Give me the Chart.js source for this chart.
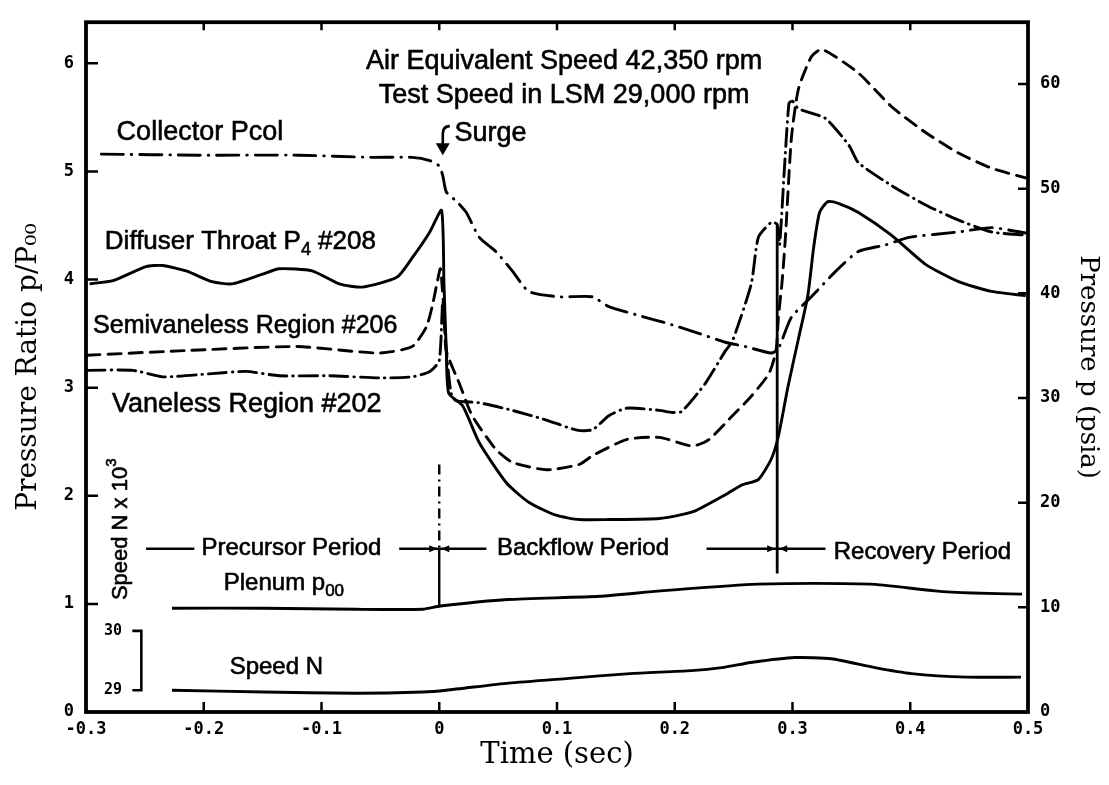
<!DOCTYPE html>
<html lang="en">
<head>
<meta charset="utf-8">
<title>Surge transient</title>
<script src="https://cdn.jsdelivr.net/npm/chart.js@4.4.1/dist/chart.umd.min.js"></script>
<style>
  body { margin: 0; background: #fff; }
  canvas { display: block; }
</style>
</head>
<body>
<canvas id="surgeChart" width="1109" height="785"></canvas>
<script>
// Time (sec) and pressure ratio p/P00
const tCollector = [-0.287, -0.204, -0.119, -0.059, -0.023, -0.008, 0.000, 0.003, 0.006, 0.015, 0.023, 0.034, 0.048, 0.062, 0.076, 0.102, 0.130, 0.144, 0.172, 0.195, 0.221, 0.243, 0.260, 0.282, 0.288, 0.299, 0.316, 0.337, 0.356, 0.379, 0.399, 0.441, 0.469, 0.498];
const pCollector = [5.16, 5.15, 5.15, 5.13, 5.13, 5.10, 5.05, 4.96, 4.81, 4.72, 4.62, 4.39, 4.26, 4.08, 3.89, 3.84, 3.84, 3.75, 3.66, 3.59, 3.50, 3.42, 3.38, 3.32, 3.36, 3.65, 3.84, 4.08, 4.26, 4.32, 4.39, 4.44, 4.48, 4.43];

const tDiffuser = [-0.297, -0.277, -0.249, -0.235, -0.215, -0.193, -0.176, -0.150, -0.136, -0.108, -0.085, -0.065, -0.036, -0.023, -0.008, 0.002, 0.004, 0.006, 0.008, 0.020, 0.034, 0.057, 0.076, 0.099, 0.119, 0.144, 0.187, 0.215, 0.243, 0.257, 0.271, 0.282, 0.288, 0.296, 0.305, 0.313, 0.318, 0.323, 0.330, 0.340, 0.356, 0.384, 0.413, 0.441, 0.469, 0.498];
const pDiffuser = [3.96, 3.99, 4.12, 4.13, 4.08, 3.98, 3.96, 4.05, 4.10, 4.08, 3.96, 3.93, 4.02, 4.20, 4.44, 4.64, 3.96, 3.34, 2.95, 2.83, 2.49, 2.12, 1.94, 1.82, 1.78, 1.78, 1.79, 1.85, 2.01, 2.10, 2.15, 2.34, 2.55, 3.00, 3.45, 3.85, 4.30, 4.62, 4.72, 4.70, 4.62, 4.41, 4.14, 3.98, 3.89, 3.85];

const tSemivaneless = [-0.299, -0.221, -0.121, -0.051, -0.023, -0.011, -0.006, -0.002, 0.001, 0.004, 0.006, 0.017, 0.028, 0.048, 0.062, 0.091, 0.119, 0.130, 0.159, 0.187, 0.215, 0.229, 0.249, 0.265, 0.280, 0.286, 0.288, 0.291, 0.294, 0.299, 0.305, 0.316, 0.325, 0.356, 0.384, 0.413, 0.441, 0.469, 0.498];
const pSemivaneless = [3.30, 3.34, 3.38, 3.32, 3.38, 3.56, 3.75, 3.96, 4.10, 3.70, 3.34, 3.04, 2.74, 2.43, 2.31, 2.24, 2.29, 2.37, 2.52, 2.54, 2.46, 2.52, 2.74, 2.92, 3.13, 3.34, 3.65, 3.96, 4.39, 5.30, 5.76, 6.06, 6.13, 5.91, 5.60, 5.36, 5.17, 5.03, 4.94];

const tVaneless = [-0.299, -0.260, -0.235, -0.193, -0.164, -0.136, -0.093, -0.051, -0.023, -0.008, 0.000, 0.003, 0.006, 0.010, 0.014, 0.034, 0.062, 0.091, 0.116, 0.130, 0.144, 0.159, 0.187, 0.198, 0.206, 0.226, 0.243, 0.249, 0.265, 0.271, 0.282, 0.287, 0.289, 0.293, 0.297, 0.300, 0.305, 0.328, 0.348, 0.356, 0.384, 0.413, 0.441, 0.469, 0.498];
const pVaneless = [3.16, 3.16, 3.10, 3.13, 3.15, 3.11, 3.11, 3.09, 3.10, 3.15, 3.25, 3.80, 3.34, 2.95, 2.88, 2.86, 2.79, 2.70, 2.61, 2.61, 2.74, 2.81, 2.79, 2.77, 2.78, 3.04, 3.34, 3.43, 3.96, 4.39, 4.53, 4.51, 4.32, 5.00, 5.63, 5.65, 5.58, 5.49, 5.24, 5.08, 4.87, 4.69, 4.55, 4.44, 4.41];

const tPlenum = [-0.227, -0.149, -0.071, -0.014, 0.001, 0.058, 0.136, 0.188, 0.266, 0.318, 0.370, 0.421, 0.453, 0.495];
const pPlenum = [0.96, 0.96, 0.95, 0.95, 0.98, 1.04, 1.07, 1.12, 1.18, 1.19, 1.18, 1.12, 1.10, 1.09];

// Speed N in thousands of rpm (own small scale, 29 to 30 bracket)
const tSpeed = [-0.227, -0.149, -0.071, -0.014, 0.006, 0.059, 0.110, 0.162, 0.214, 0.240, 0.266, 0.302, 0.333, 0.370, 0.401, 0.448, 0.494];
const nSpeed = [29.00, 28.97, 28.95, 28.97, 29.00, 29.12, 29.20, 29.28, 29.33, 29.38, 29.47, 29.55, 29.53, 29.38, 29.28, 29.22, 29.22];
const speedBracket = [29, 30];

// Period markers
const surgeTime = 0;
const recoveryTime = 0.287;

const ink = '#000';
const sans = '"Liberation Sans", Arial, sans-serif';
const mono = '"DejaVu Sans Mono", monospace';
const serif = '"DejaVu Serif", serif';

const pts = (ts, vs) => ts.map((t, i) => ({ x: t, y: vs[i] }));

const trace = (label, ts, vs, dash, axis) => ({
    label,
    data: pts(ts, vs),
    yAxisID: axis || 'y',
    borderColor: ink,
    borderWidth: 2.9,
    borderDash: dash,
    borderCapStyle: dash.length ? 'round' : 'butt',
    borderJoinStyle: 'round',
    pointRadius: 0,
    tension: 0.2,
    fill: false
});

// labels placed in data units (time, pressure ratio)
const notes = [
    { runs: [['Air Equivalent Speed 42,350 rpm']], t: 0.106, p: 6.02, size: 27, align: 'center' },
    { runs: [['Test Speed in LSM 29,000 rpm']], t: 0.106, p: 5.70, size: 27, align: 'center' },
    { runs: [['Collector Pcol']], t: -0.274, p: 5.36, size: 27 },
    { runs: [['Surge']], t: 0.013, p: 5.35, size: 27 },
    { runs: [['Diffuser Throat P'], ['4', 'sub'], [' #208']], t: -0.284, p: 4.35, size: 26 },
    { runs: [['Semivaneless Region #206']], t: -0.294, p: 3.57, size: 25 },
    { runs: [['Vaneless Region #202']], t: -0.278, p: 2.84, size: 27 },
    { runs: [['Precursor Period']], t: -0.202, p: 1.51, size: 24 },
    { runs: [['Backflow Period']], t: 0.049, p: 1.51, size: 24 },
    { runs: [['Recovery Period']], t: 0.335, p: 1.48, size: 24 },
    { runs: [['Plenum p'], ['00', 'sub']], t: -0.183, p: 1.19, size: 24 },
    { runs: [['Speed N']], t: -0.178, p: 0.41, size: 24 }
];

const drawRuns = (ctx, runs, x, y, size, align) => {
    const fontFor = kind => `${kind ? Math.round(size * 0.7) : size}px ${sans}`;
    let total = 0;
    runs.forEach(([s, kind]) => { ctx.font = fontFor(kind); total += ctx.measureText(s).width; });
    let cx = align === 'center' ? x - total / 2 : x;
    ctx.textAlign = 'left';
    ctx.textBaseline = 'middle';
    ctx.lineWidth = 0.6;
    runs.forEach(([s, kind]) => {
        ctx.font = fontFor(kind);
        const dy = kind === 'sub' ? size * 0.32 : kind === 'sup' ? -size * 0.42 : 0;
        ctx.fillText(s, cx, y + dy);
        ctx.strokeText(s, cx, y + dy);
        cx += ctx.measureText(s).width;
    });
};

const arrowTo = (ctx, x1, y, x2) => {
    const d = Math.sign(x2 - x1);
    ctx.beginPath();
    ctx.moveTo(x1, y);
    ctx.lineTo(x2, y);
    ctx.stroke();
    ctx.beginPath();
    ctx.moveTo(x2 - d * 2, y);
    ctx.lineTo(x2 - d * 10, y - 3.5);
    ctx.lineTo(x2 - d * 10, y + 3.5);
    ctx.closePath();
    ctx.fill();
};

const decor = {
    id: 'decor',
    afterDraw(chart) {
        const { ctx, chartArea: a, scales } = chart;
        const X = t => scales.x.getPixelForValue(t);
        const Y = p => scales.y.getPixelForValue(p);
        const YR = p => scales.yR.getPixelForValue(p);
        const YN = n => scales.yN.getPixelForValue(n);

        ctx.save();
        ctx.strokeStyle = ink;
        ctx.fillStyle = ink;
        ctx.lineCap = 'butt';

        // frame
        ctx.lineWidth = 3.8;
        ctx.strokeRect(a.left, a.top, a.right - a.left, a.bottom - a.top);

        // tick marks point inwards
        ctx.lineWidth = 2.5;
        ctx.beginPath();
        scales.x.ticks.forEach(tk => {
            const x = X(tk.value);
            if (x < a.left + 3 || x > a.right - 3) return;
            ctx.moveTo(x, a.bottom); ctx.lineTo(x, a.bottom - 10);
            ctx.moveTo(x, a.top); ctx.lineTo(x, a.top + 8);
        });
        scales.y.ticks.forEach(tk => {
            if (tk.value <= 0) return;
            ctx.moveTo(a.left, Y(tk.value)); ctx.lineTo(a.left + 12, Y(tk.value));
        });
        scales.yR.ticks.forEach(tk => {
            if (tk.value <= 0) return;
            ctx.moveTo(a.right, YR(tk.value)); ctx.lineTo(a.right - 10, YR(tk.value));
        });
        ctx.stroke();

        // period line with arrows
        ctx.lineWidth = 2.4;
        const yp = Y(1.51);
        ctx.beginPath();
        ctx.moveTo(X(-0.249), yp); ctx.lineTo(X(-0.208), yp);
        ctx.stroke();
        arrowTo(ctx, X(-0.034), yp, X(surgeTime));
        arrowTo(ctx, X(0.040), yp, X(surgeTime));
        arrowTo(ctx, X(0.227), yp, X(recoveryTime));
        arrowTo(ctx, X(0.328), yp, X(recoveryTime));

        // surge marker: dash-dot above the period line, solid below
        ctx.setLineDash([10, 5, 2, 5]);
        ctx.beginPath();
        ctx.moveTo(X(surgeTime), Y(2.29)); ctx.lineTo(X(surgeTime), yp);
        ctx.stroke();
        ctx.setLineDash([]);
        ctx.beginPath();
        ctx.moveTo(X(surgeTime), yp); ctx.lineTo(X(surgeTime), Y(0.97));
        ctx.stroke();

        // recovery marker
        ctx.lineWidth = 2.8;
        ctx.beginPath();
        ctx.moveTo(X(recoveryTime), Y(4.5)); ctx.lineTo(X(recoveryTime), Y(1.28));
        ctx.stroke();

        // surge arrow
        const sx = X(0.003), yHook = Y(5.40), yTip = Y(5.15);
        ctx.lineWidth = 2.6;
        ctx.beginPath();
        ctx.moveTo(sx + 7, yHook - 2);
        ctx.quadraticCurveTo(sx, yHook - 2, sx, yHook + 6);
        ctx.lineTo(sx, yTip - 9);
        ctx.stroke();
        ctx.beginPath();
        ctx.moveTo(sx - 7, yTip - 12); ctx.lineTo(sx + 7, yTip - 12); ctx.lineTo(sx, yTip);
        ctx.closePath();
        ctx.fill();

        // speed bracket 29-30
        const bx = X(-0.253);
        ctx.lineWidth = 2.6;
        ctx.beginPath();
        ctx.moveTo(bx - 9, YN(speedBracket[1])); ctx.lineTo(bx, YN(speedBracket[1]));
        ctx.lineTo(bx, YN(speedBracket[0])); ctx.lineTo(bx - 9, YN(speedBracket[0]));
        ctx.stroke();
        ctx.font = `bold 15px ${mono}`;
        ctx.textAlign = 'center';
        ctx.textBaseline = 'middle';
        speedBracket.forEach(n => ctx.fillText(String(n), X(-0.277), YN(n)));

        // text labels
        notes.forEach(nt => drawRuns(ctx, nt.runs, X(nt.t), Y(nt.p), nt.size, nt.align));

        // rotated speed label
        ctx.save();
        ctx.translate(X(-0.270), Y(1.69));
        ctx.rotate(-Math.PI / 2);
        drawRuns(ctx, [['Speed N x 10'], ['3', 'sup']], 0, 0, 22, 'center');
        ctx.restore();

        ctx.restore();
    }
};

const tickFont = { family: mono, size: 17, weight: 'bold' };

new Chart(document.getElementById('surgeChart'), {
    type: 'line',
    data: {
        datasets: [
            trace('Collector Pcol', tCollector, pCollector, [22, 8, 0.5, 8]),
            trace('Diffuser Throat P4 #208', tDiffuser, pDiffuser, []),
            trace('Semivaneless Region #206', tSemivaneless, pSemivaneless, [13, 8]),
            trace('Vaneless Region #202', tVaneless, pVaneless, [18, 6, 0.5, 6]),
            trace('Plenum p00', tPlenum, pPlenum, []),
            trace('Speed N', tSpeed, nSpeed, [], 'yN')
        ]
    },
    options: {
        responsive: false,
        animation: false,
        devicePixelRatio: 1,
        layout: { padding: { top: 15, left: 0, right: 0, bottom: 0 } },
        plugins: { legend: { display: false }, tooltip: { enabled: false } },
        scales: {
            x: {
                type: 'linear',
                min: -0.3,
                max: 0.5,
                grid: { display: false, drawTicks: false },
                border: { display: false },
                ticks: {
                    stepSize: 0.1,
                    autoSkip: false,
                    maxRotation: 0,
                    padding: 7,
                    color: ink,
                    font: tickFont,
                    callback: v => Math.abs(v) < 1e-9 ? '0' : v.toFixed(1)
                },
                title: { display: true, text: 'Time (sec)', color: ink, font: { family: serif, size: 29 }, padding: { top: 0, bottom: 12 } },
                afterFit: s => { s.height = 73; }
            },
            y: {
                position: 'left',
                min: 0,
                max: 6.38,
                grid: { display: false, drawTicks: false },
                border: { display: false },
                ticks: { stepSize: 1, includeBounds: false, padding: 12, color: ink, font: tickFont },
                title: { display: true, text: 'Pressure Ratio p/P\u2080\u2080', color: ink, font: { family: serif, size: 28 }, padding: { top: 12 } },
                afterFit: s => { s.width = 86; }
            },
            yR: {
                position: 'right',
                min: 0,
                max: 65.9,
                grid: { display: false, drawTicks: false },
                border: { display: false },
                ticks: { stepSize: 10, includeBounds: false, padding: 12, color: ink, font: tickFont },
                title: { display: true, text: 'Pressure p (psia)', color: ink, font: { family: serif, size: 26 }, padding: { top: 6 } },
                afterFit: s => { s.width = 81; }
            },
            yN: { display: false, min: 28.633, max: 40.25 }
        }
    },
    plugins: [decor]
});
</script>
</body>
</html>
